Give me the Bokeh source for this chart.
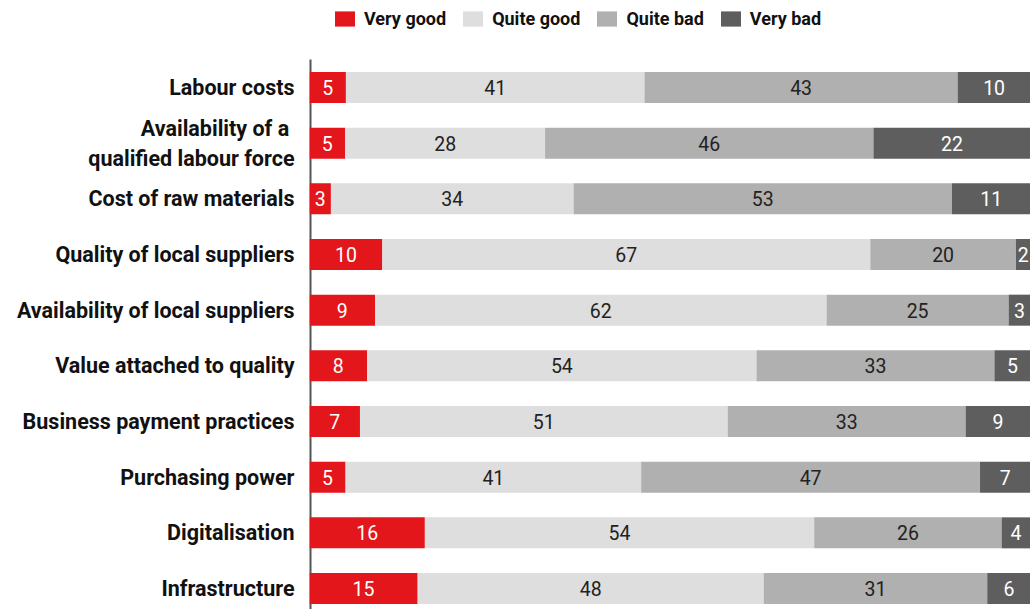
from bokeh.plotting import figure
from bokeh.models import Range1d, ColumnDataSource, Legend, LegendItem, FixedTicker
from bokeh.embed import file_html
from bokeh.resources import INLINE
from bokeh.core.properties import value

categories = ["Labour costs", "Availability of a \nqualified labour force", "Cost of raw materials",
              "Quality of local suppliers", "Availability of local suppliers", "Value attached to quality",
              "Business payment practices", "Purchasing power", "Digitalisation", "Infrastructure"]
series_names = ["Very good", "Quite good", "Quite bad", "Very bad"]
very_good = [5, 5, 3, 10, 9, 8, 7, 5, 16, 15]
quite_good = [41, 28, 34, 67, 62, 54, 51, 41, 54, 48]
quite_bad = [43, 46, 53, 20, 25, 33, 33, 47, 26, 31]
very_bad = [10, 22, 11, 2, 3, 5, 9, 7, 4, 6]

colors = ["#E3161B", "#DEDEDE", "#B0B0B0", "#5E5E5E"]
text_colors = ["#FFFFFF", "#222222", "#222222", "#FFFFFF"]
FONT = "Roboto"

series = [very_good, quite_good, quite_bad, very_bad]
n = len(categories)
ys = list(range(n))
totals = [sum(s[i] for s in series) for i in range(n)]

Y_BOTTOM, Y_TOP, Y_AXIS_TOP = 9.377, -1.563, -0.503

p = figure(width=1030, height=609, x_range=Range1d(0, 100), y_range=Range1d(Y_BOTTOM, Y_TOP),
           output_backend="svg", toolbar_location=None,
           min_border_left=309, min_border_right=0, min_border_bottom=0, min_border_top=0)
p.outline_line_color = None
p.grid.visible = False
p.xaxis.visible = False

# vertical baseline (axis line) starting just above the first bar
p.segment(x0=[0], y0=[Y_AXIS_TOP], x1=[0], y1=[Y_BOTTOM], line_color="#555555", line_width=4)

items = []
left = [0.0] * n
for k, s in enumerate(series):
    widths = [s[i] / totals[i] * 100 for i in range(n)]
    right = [left[i] + widths[i] for i in range(n)]
    src = ColumnDataSource(dict(y=ys, left=left, right=right,
                                xc=[(left[i] + right[i]) / 2 for i in range(n)],
                                lab=[str(v) for v in s]))
    r = p.hbar(y="y", left="left", right="right", height=0.557, source=src,
               fill_color=colors[k], line_color=None)
    p.text(x="xc", y="y", text="lab", source=src, text_align="center", text_baseline="middle",
           text_color=text_colors[k], text_font=value(FONT), text_font_size="19.5px")
    items.append(LegendItem(label=series_names[k], renderers=[r]))
    left = right

yaxis = p.yaxis[0]
yaxis.ticker = FixedTicker(ticks=ys)
yaxis.major_label_overrides = {i: c for i, c in enumerate(categories)}
yaxis.major_tick_line_color = None
yaxis.minor_tick_line_color = None
yaxis.axis_line_color = None
yaxis.major_label_standoff = 9
yaxis.major_label_text_font = FONT
yaxis.major_label_text_font_style = "bold"
yaxis.major_label_text_font_size = "21.5px"
yaxis.major_label_text_color = "#111111"
yaxis.major_label_text_align = "right"

legend = Legend(items=items, orientation="horizontal", location=(23, 580),
                glyph_width=25, glyph_height=19, label_standoff=7, spacing=14,
                padding=0, margin=0, border_line_color=None, background_fill_alpha=0,
                label_text_font=FONT, label_text_font_style="bold", label_text_font_size="18px",
                label_text_color="#111111")
p.add_layout(legend, "center")

open("out.html", "w").write(file_html(p, INLINE))
